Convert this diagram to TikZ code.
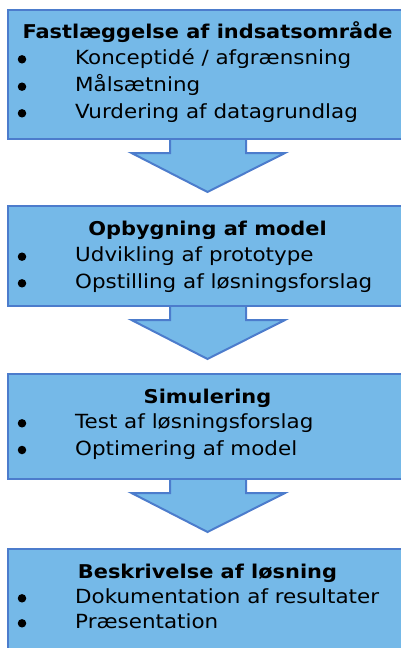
\documentclass[tikz,border=0pt]{standalone}
\usepackage{fontspec}
\setmainfont{DejaVu Sans}[FakeStretch=1.1]
\usetikzlibrary{calc}
\definecolor{boxfill}{RGB}{117,185,232}
\definecolor{boxline}{RGB}{76,124,204}
\tikzset{
  stagebox/.style={draw=boxline, fill=boxfill, line width=2pt, rectangle, inner sep=0pt,
    minimum width=400pt, anchor=north west},
  flowarrow/.style={draw=boxline, fill=boxfill, line width=2pt, line join=miter},
  titletext/.style={font=\fontsize{19}{22}\selectfont\bfseries, inner sep=0pt, anchor=base},
  itemtext/.style={font=\fontsize{19.5}{22}\selectfont, inner sep=0pt, anchor=base west},
  bulletdot/.style={circle, fill=black, inner sep=0pt, minimum size=8.5pt},
}
\begin{document}
\begin{tikzpicture}[x=1pt,y=1pt]
\useasboundingbox (0,0) rectangle (401,-648);
\clip (0,0) rectangle (401,-648);
\path (7,-9) coordinate (c1) (7,-205) coordinate (c2) (7,-373) coordinate (c3) (7,-548) coordinate (c4);
% arrows
\foreach \top in {138, 305, 478}{
  \draw[flowarrow] (170,-\top+8) -- (170,-\top-15) -- (131.5,-\top-15) -- (207.5,-\top-54)
    -- (285,-\top-15) -- (246,-\top-15) -- (246,-\top+8);
}
\node[stagebox, minimum height=129pt] (b1) at (c1) {};
\node[stagebox, minimum height=100pt] (b2) at (c2) {};
\node[stagebox, minimum height=105pt] (b3) at (c3) {};
\node[stagebox, minimum height=120pt] (b4) at (c4) {};
% box 1
\node[titletext] (t1) at (207.5,-38.3) {Fastlæggelse af indsatsområde};
\node[bulletdot] (d11) at (22,-59.3) {};
\node[itemtext] (i11) at (75,-64.3) {Konceptidé / afgrænsning};
\node[bulletdot] (d12) at (22,-86.7) {};
\node[itemtext] (i12) at (75,-91.7) {Målsætning};
\node[bulletdot] (d13) at (22,-113.3) {};
\node[itemtext] (i13) at (75,-118.3) {Vurdering af datagrundlag};
% box 2
\node[titletext] (t2) at (207.5,-235) {Opbygning af model};
\node[bulletdot] (d21) at (22,-256.7) {};
\node[itemtext] (i21) at (75,-261.7) {Udvikling af prototype};
\node[bulletdot] (d22) at (22,-283.3) {};
\node[itemtext] (i22) at (75,-288.3) {Opstilling af løsningsforslag};
% box 3
\node[titletext] (t3) at (207.5,-403.3) {Simulering};
\node[bulletdot] (d31) at (22,-423.3) {};
\node[itemtext] (i31) at (75,-428.3) {Test af løsningsforslag};
\node[bulletdot] (d32) at (22,-450) {};
\node[itemtext] (i32) at (75,-455) {Optimering af model};
% box 4
\node[titletext] (t4) at (207.5,-578.3) {Beskrivelse af løsning};
\node[bulletdot] (d41) at (22,-598.3) {};
\node[itemtext] (i41) at (75,-603.3) {Dokumentation af resultater};
\node[bulletdot] (d42) at (22,-623.3) {};
\node[itemtext] (i42) at (75,-628.3) {Præsentation};
\end{tikzpicture}
\end{document}
